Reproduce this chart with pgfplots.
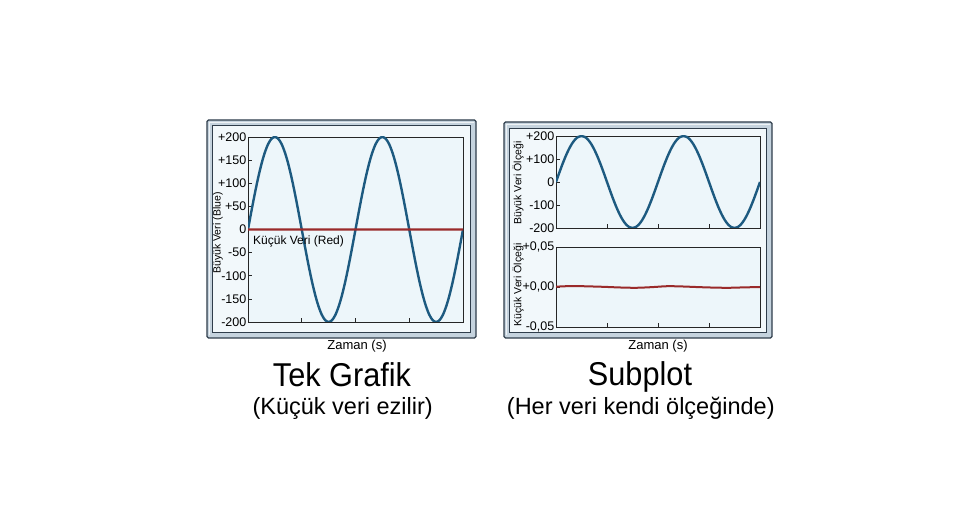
\documentclass[border=0pt]{standalone}
\usepackage{pgfplots}
\pgfplotsset{compat=1.18}
\usepackage{pgfplotstable}
\usepackage{graphicx}
\usepackage{fontspec}
\setmainfont{Liberation Sans}
\definecolor{blueLine}{RGB}{29,90,128}
\definecolor{redLine}{RGB}{154,42,42}
\definecolor{plotBg}{RGB}{237,246,250}
\definecolor{panelBg}{RGB}{242,248,251}
\definecolor{bevel}{RGB}{197,211,222}
\definecolor{frameDark}{RGB}{47,61,75}

\pgfplotstableread{
x y
0 0
1 39.0
2 76.5
3 111.1
4 141.4
5 166.3
6 184.8
7 196.2
8 200
9 196.2
10 184.8
11 166.3
12 141.4
13 111.1
14 76.5
15 39.0
16 0
17 -39.0
18 -76.5
19 -111.1
20 -141.4
21 -166.3
22 -184.8
23 -196.2
24 -200
25 -196.2
26 -184.8
27 -166.3
28 -141.4
29 -111.1
30 -76.5
31 -39.0
32 0
33 39.0
34 76.5
35 111.1
36 141.4
37 166.3
38 184.8
39 196.2
40 200
41 196.2
42 184.8
43 166.3
44 141.4
45 111.1
46 76.5
47 39.0
48 0
49 -39.0
50 -76.5
51 -111.1
52 -141.4
53 -166.3
54 -184.8
55 -196.2
56 -200
57 -196.2
58 -184.8
59 -166.3
60 -141.4
61 -111.1
62 -76.5
63 -39.0
64 0
}\bigdata

\pgfplotstableread{
x y
0 0.0004
5 0.0012
10 0.0008
15 0.0002
20 -0.0006
25 -0.0010
30 -0.0002
35 0.0010
40 0.0006
45 -0.0002
50 -0.0008
54 -0.0010
58 -0.0006
64 0.0000
}\smalldata

\pgfplotsset{
  panelaxis/.style={
    scale only axis,
    anchor=south west,
    axis background/.style={fill=plotBg},
    axis line style={draw=black!85, line width=0.8pt},
    tick align=inside,
    tick pos=left,
    major tick length=4pt,
    tick style={black!85, line width=0.7pt},
    scaled y ticks=false,
    scaled x ticks=false,
    xmin=0, xmax=64,
    xtick={16,32,48},
    xticklabels={},
    yticklabel style={font=\fontsize{12.5}{12.5}\selectfont, inner sep=1.5pt},
  }
}

\begin{document}
\begin{tikzpicture}[x=1pt,y=1pt]
\useasboundingbox (0,0) rectangle (980,524);
\fill[white] (0,0) rectangle (980,524);

% frames
\filldraw[fill=bevel, draw=frameDark, line width=1.3pt, rounded corners=1.5pt] (207,186) rectangle (476,404);
\draw[white!70!bevel, line width=1.2pt] (209.5,188.5) -- (209.5,401.5) -- (473.5,401.5);
\filldraw[fill=panelBg, draw=frameDark, line width=0.8pt] (212.5,191.5) rectangle (470.5,398.5);

\filldraw[fill=bevel, draw=frameDark, line width=1.3pt, rounded corners=1.5pt] (504,186) rectangle (772,402);
\draw[white!70!bevel, line width=1.2pt] (506.5,188.5) -- (506.5,399.5) -- (769.5,399.5);
\filldraw[fill=panelBg, draw=frameDark, line width=0.8pt] (509.5,191.5) rectangle (766.5,395.5);

% left single plot
\begin{axis}[panelaxis,
  at={(248pt,202pt)}, width=215pt, height=185pt,
  ymin=-200, ymax=200,
  ytick={-200,-150,-100,-50,0,50,100,150,200},
  yticklabels={-200,-150,-100,-50,0,+50,+100,+150,+200},
]
\addplot[blueLine, line width=2.4pt, smooth] table[x=x,y=y] {\bigdata};
\addplot[redLine, line width=2.2pt, smooth] table[x=x,y=y] {\smalldata};
\end{axis}

% right upper
\begin{axis}[panelaxis,
  at={(556pt,296pt)}, width=204pt, height=92pt,
  ymin=-200, ymax=200,
  ytick={-200,-100,0,100,200},
  yticklabels={-200,-100,0,+100,+200},
]
\addplot[blueLine, line width=2.4pt, smooth] table[x=x,y=y] {\bigdata};
\end{axis}

% right lower
\begin{axis}[panelaxis,
  at={(556pt,197pt)}, width=204pt, height=80pt,
  ymin=-0.05, ymax=0.05,
  ytick={-0.05,0,0.05},
  yticklabels={{-0,05},{+0,00},{+0,05}},
]
\addplot[redLine, line width=2pt, smooth] table[x=x,y=y] {\smalldata};
\end{axis}

% labels
\node[anchor=base west, font=\fontsize{12}{12}\selectfont, inner sep=0pt] at (253,279) {Küçük Veri (Red)};
\node[rotate=90, font=\fontsize{10.5}{10.5}\selectfont, inner sep=0pt] at (218,291) {Büyük Veri (Blue)};
\node[rotate=90, font=\fontsize{10.5}{10.5}\selectfont, inner sep=0pt] at (518,341) {Büyük Veri Ölçeği};
\node[rotate=90, font=\fontsize{10.5}{10.5}\selectfont, inner sep=0pt] at (518,239) {Küçük Veri Ölçeği};

\node[anchor=base, font=\fontsize{13}{13}\selectfont, inner sep=0pt] at (357,174) {Zaman (s)};
\node[anchor=base, font=\fontsize{13}{13}\selectfont, inner sep=0pt] at (658,174) {Zaman (s)};

\node[anchor=base, font=\fontsize{33}{33}\selectfont, inner sep=0pt] at (342,137) {\scalebox{0.93}[1]{Tek Grafik}};
\node[anchor=base, font=\fontsize{23.5}{24}\selectfont, inner sep=0pt] at (342.7,109) {(Küçük veri ezilir)};
\node[anchor=base, font=\fontsize{33}{33}\selectfont, inner sep=0pt] at (640,138) {\scalebox{0.93}[1]{Subplot}};
\node[anchor=base, font=\fontsize{23.5}{24}\selectfont, inner sep=0pt] at (640.8,109) {(Her veri kendi ölçeğinde)};
\end{tikzpicture}
\end{document}
